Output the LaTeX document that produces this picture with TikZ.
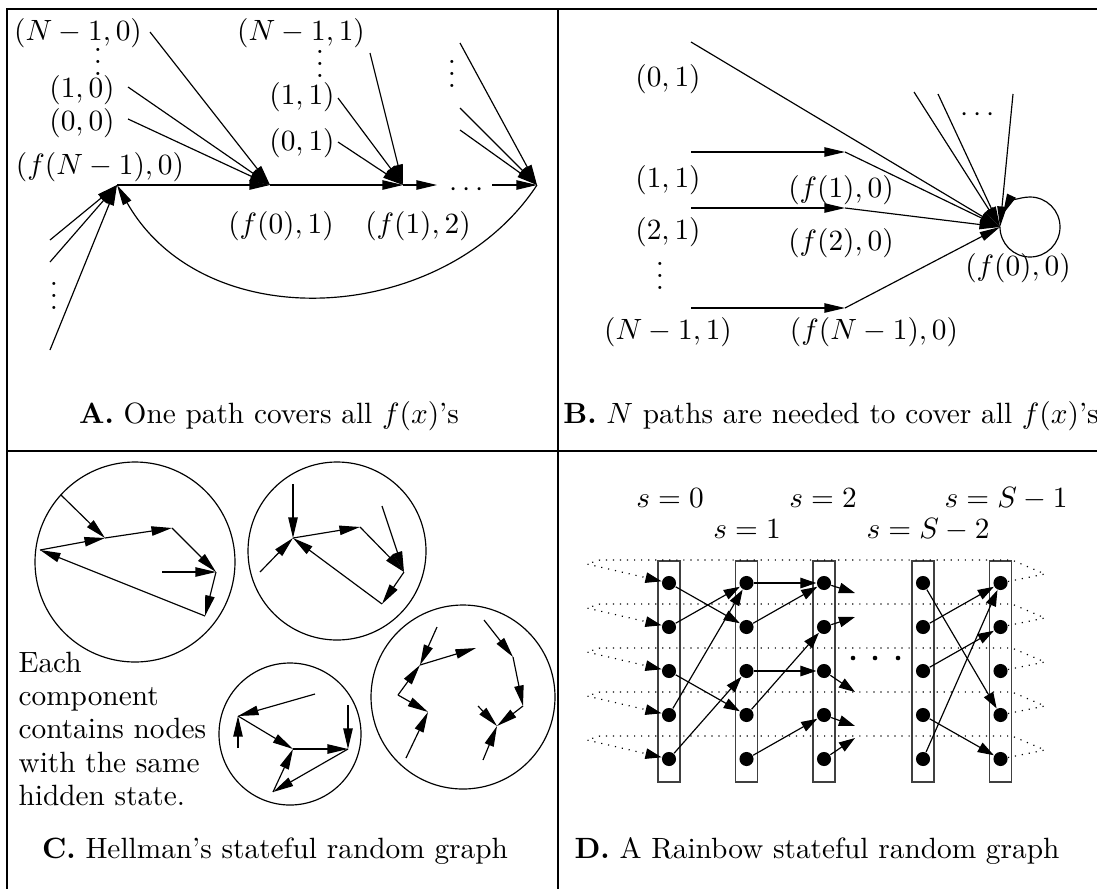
\documentclass[tikz,border=0pt]{standalone}
\usetikzlibrary{arrows.meta}
\begin{document}
\begin{tikzpicture}[x=0.341pt, y=-0.341pt, >={Triangle[length=7pt,width=3.2pt]},
    frame/.style={line width=0.6pt},
    dotnode/.style={circle, fill, inner sep=0pt, minimum size=4.8pt}]
\useasboundingbox (0,0) rectangle (1097,888);
\draw[frame] (1100,8.7) -- (7,8.7) -- (7,891);
\draw[frame] (7,451) -- (1100,451);
\draw[frame] (558,8.7) -- (558,891);
% A
\coordinate (a0) at (117,185);
\coordinate (a1) at (270,185);
\coordinate (a2) at (403,185);
\coordinate (a3) at (437,185);
\coordinate (a4) at (492,185);
\coordinate (a5) at (537,185);
\node (l00) at (78,33) {$(N-1,0)$};
\node (v0) at (98,53) {$\vdots$};
\node (l10) at (82,90) {$(1,0)$};
\node (l20) at (82,123) {$(0,0)$};
\node (lf0) at (100,167) {$(f(N-1),0)$};
\node (lf1) at (281,226) {$(f(0),1)$};
\node (l01) at (301,33) {$(N-1,1)$};
\node (v1) at (320,55) {$\vdots$};
\node (l11) at (302,97) {$(1,1)$};
\node (l21) at (302,143) {$(0,1)$};
\node (lf2) at (418,226) {$(f(1),2)$};
\node (v2) at (452,65) {$\vdots$};
\node (dA) at (467,190) {$\cdots$};
\node (v3) at (54,287) {$\vdots$};
\draw[->] (a0) -- (a1);
\draw[->] (a1) -- (a2);
\draw[->] (a2) -- (a3);
\draw[->] (a4) -- (a5);
\foreach \x/\y [count=\i] in {150/32,128/87,128/119}
  {\coordinate (p\i) at (\x,\y); \draw[->] (p\i) -- (a1);}
\foreach \x/\y [count=\i] in {370/53,338/98,338/142}
  {\coordinate (q\i) at (\x,\y); \draw[->] (q\i) -- (a2);}
\foreach \x/\y [count=\i] in {460/43,460/108,460/130}
  {\coordinate (r\i) at (\x,\y); \draw[->] (r\i) -- (a5);}
\foreach \x/\y [count=\i] in {50/240,50/262,50/350}
  {\coordinate (w\i) at (\x,\y); \draw[->] (w\i) -- (a0);}
\draw[->] (a5) .. controls (445,325) and (205,340) .. (a0);
\node[anchor=base] (capA) at (269,423) {\textbf{A.} One path covers all $f(x)$'s};
% B
\coordinate (b0) at (1000,227);
\node (lb01) at (668,79) {$(0,1)$};
\node (lb11) at (668,180) {$(1,1)$};
\node (lb21) at (668,232) {$(2,1)$};
\node (vb) at (660,267) {$\vdots$};
\node (lbN1) at (668,332) {$(N-1,1)$};
\node (lbf1) at (841,190) {$(f(1),0)$};
\node (lbf2) at (841,243) {$(f(2),0)$};
\node (lbfN) at (874,332) {$(f(N-1),0)$};
\node (lbf0) at (1018,268) {$(f(0),0)$};
\node (db) at (978,115) {$\cdots$};
\foreach \y [count=\i] in {152,208,308}
  {\coordinate (bs\i) at (691,\y); \coordinate (be\i) at (845,\y);
   \draw[->] (bs\i) -- (be\i); \draw[->] (be\i) -- (b0);}
\foreach \x/\y [count=\i] in {691/42,914/92,938/94,1013/94}
  {\coordinate (bt\i) at (\x,\y); \draw[->] (bt\i) -- (b0);}
\draw[->] (b0) arc[start angle=180, end angle=-155, radius=30];
\node[anchor=base] (capB) at (831,423) {\textbf{B.} $N$ paths are needed to cover all $f(x)$'s};
% C
\draw (135,562) circle (100);
\draw (337,551) circle (89);
\draw (290,734) circle (71);
\draw (463,697) circle (92);
\foreach \n/\x/\y in {c1/61/495,c2/105/538,c3/40/550,c4/172/528,c5/216/572,c6/162/572,c7/205/616,
    d1/293/484,d2/293/538,d3/260/572,d4/360/527,d5/404/572,d6/382/506,d7/382/604,
    e1/315/694,e2/238/716,e3/238/748,e4/293/749,e5/348/749,e6/348/705,e7/273/792,
    f1/437/627,f2/420/665,f3/476/648,f4/398/695,f5/428/712,f6/406/758,
    g1/484/620,g2/513/657,g3/523/706,g4/478/706,g5/497/726,g6/483/760}
  \coordinate (\n) at (\x,\y);
\foreach \u/\v in {c1/c2,c3/c2,c2/c4,c4/c5,c6/c5,c5/c7,c7/c3,
    d1/d2,d3/d2,d2/d4,d4/d5,d6/d5,d5/d7,d7/d2,
    e1/e2,e3/e2,e2/e4,e4/e5,e6/e5,e5/e7,e7/e4,
    f1/f2,f2/f3,f4/f2,f4/f5,f6/f5,
    g1/g2,g2/g3,g4/g5,g3/g5,g6/g5}
  \draw[->] (\u) -- (\v);
\node[anchor=north west, inner sep=0pt, align=left, font=\fontsize{10}{11.26}\selectfont] (note) at (18,652)
  {Each\\component\\contains nodes\\with the same\\hidden state.};
\node[anchor=base] (capC) at (275,858) {\textbf{C.} Hellman's stateful random graph};
% D
\node[anchor=base] (s0) at (670,507) {$s=0$};
\node[anchor=base] (s1) at (747,538) {$s=1$};
\node[anchor=base] (s2) at (823,507) {$s=2$};
\node[anchor=base] (s4) at (1006,507) {$s=S-1$};
\node[anchor=base] (s3) at (928,538) {$s=S-2$};
\foreach \x [count=\c from 0] in {669,746.5,824,923,1000.5}
  {\draw[black!75, line width=0.45pt] (\x-11,561) rectangle (\x+11,782);
   \foreach \r in {0,...,4} \node[dotnode] (n\c\r) at (\x,583+44*\r) {};}
\begin{scope}[>={Triangle[length=5.5pt,width=3.6pt]}]
\foreach \r in {0,...,4}
  \draw[dotted, ->] (n4\r) -- (1045,574+44*\r) -- (1012,560+44*\r) -- (600,560+44*\r)
    -- (587,564+44*\r) -- (n0\r);
\foreach \u/\v in {00/11,01/10,03/10,02/13,04/12,10/20,11/20,13/21,12/22,14/23,
    30/43,31/40,32/41,33/44,34/40}
  \draw[->] (n\u) -- (n\v);
\foreach \y [count=\r from 0] in {593,617,692,726,738}
  {\coordinate (t\r) at (855,\y); \draw[->] (n2\r) -- (t\r);}
\end{scope}
\foreach \x [count=\i] in {853,875,898} \fill (\x,658) coordinate (k\i) circle (2.3);
\node[anchor=base] (capD) at (817,858) {\textbf{D.} A Rainbow stateful random graph};
\end{tikzpicture}
\end{document}
